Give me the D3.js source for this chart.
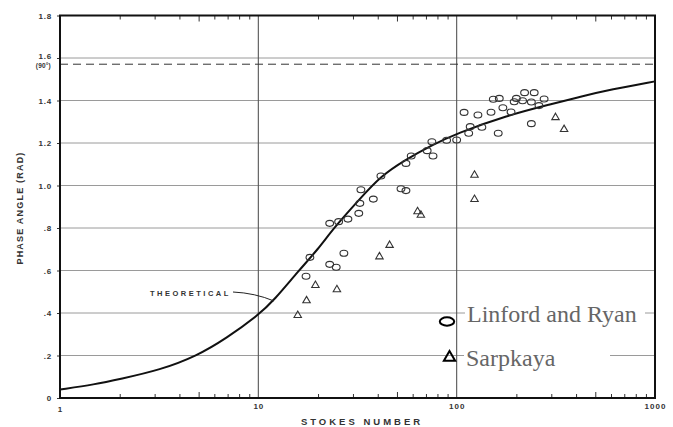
<!DOCTYPE html>
<html>
<head>
<meta charset="utf-8">
<script src="https://cdn.jsdelivr.net/npm/d3@7"></script>
<style>
  html, body { margin: 0; padding: 0; background: #fff; }
  svg { display: block; }
  .lbl { font-family: "Liberation Sans", Arial, sans-serif; fill: #333; font-weight: bold; }
</style>
</head>
<body>
<svg id="chart" width="673" height="427"></svg>
<script>
// Theoretical phase angle curve (Stokes number, phase angle in rad)
const theoryStokes = [1, 1.5, 2, 3.2, 4.9, 6.9, 10, 12, 16, 20, 24, 32, 41.5, 55, 75, 100, 180, 300, 420, 600, 1000];
const theoryPhase  = [0.04, 0.064, 0.089, 0.132, 0.198, 0.281, 0.39, 0.46, 0.6, 0.7, 0.8, 0.93, 1.045, 1.12, 1.19, 1.245, 1.33, 1.383, 1.418, 1.452, 1.49];

// Linford and Ryan measurements
const linfordStokes = [17.4, 18.2, 22.9, 22.9, 24.7, 25.4, 27.0, 28.3, 32.1, 32.5, 32.9, 38.0, 41.5, 52.4, 55.5, 55.5, 59, 71, 76, 75, 89, 100, 109, 115, 117, 128, 134, 149, 153, 162, 164, 171, 188, 195, 200, 215, 220, 238, 238, 246, 260, 276];
const linfordPhase  = [0.573, 0.662, 0.629, 0.822, 0.615, 0.83, 0.681, 0.842, 0.869, 0.916, 0.98, 0.936, 1.045, 0.985, 0.976, 1.104, 1.139, 1.164, 1.139, 1.206, 1.213, 1.214, 1.344, 1.246, 1.277, 1.332, 1.274, 1.345, 1.406, 1.246, 1.41, 1.366, 1.346, 1.394, 1.41, 1.399, 1.437, 1.393, 1.291, 1.437, 1.376, 1.407];

// Sarpkaya measurements
const sarpkayaStokes = [15.8, 17.5, 19.4, 24.9, 40.8, 45.9, 63.5, 66, 123, 123, 315, 348];
const sarpkayaPhase  = [0.389, 0.458, 0.53, 0.51, 0.665, 0.719, 0.877, 0.861, 1.049, 0.935, 1.32, 1.264];

// Axis ticks
const xMajor = [1, 10, 100, 1000];
const xMajorLabels = ["1", "10", "100", "1000"];
const yTicks = [0, 0.2, 0.4, 0.6, 0.8, 1.0, 1.2, 1.4, 1.6, 1.8];
const yTickLabels = ["0", ".2", ".4", ".6", ".8", "1.0", "1.2", "1.4", "1.6", "1.8"];
const halfPi = Math.PI / 2;

const svg = d3.select("#chart");
const x = d3.scaleLog().domain([1, 1000]).range([60, 655]);
const y = d3.scaleLinear().domain([0, 1.8]).range([398, 15.5]);

const minorTicks = [];
[1, 10, 100].forEach(d => { for (let k = 2; k <= 9; k++) minorTicks.push(d * k); });

// horizontal grid
svg.append("g").selectAll("line").data(yTicks.filter(v => v > 0 && v < 1.8)).join("line")
  .attr("x1", x(1)).attr("x2", x(1000))
  .attr("y1", d => y(d)).attr("y2", d => y(d))
  .attr("stroke", "#9a9a9a").attr("stroke-width", 1);

// vertical grid at decades
svg.append("g").selectAll("line").data([10, 100]).join("line")
  .attr("x1", d => x(d)).attr("x2", d => x(d))
  .attr("y1", y(0)).attr("y2", y(1.8))
  .attr("stroke", "#555").attr("stroke-width", 1.1);

// dashed 90 degree line
svg.append("line")
  .attr("x1", x(1)).attr("x2", x(1000))
  .attr("y1", y(halfPi)).attr("y2", y(halfPi))
  .attr("stroke", "#333").attr("stroke-width", 1)
  .attr("stroke-dasharray", "8,5");

// minor ticks on bottom and top
const bottomMinor = d3.axisBottom(x).tickValues(minorTicks).tickFormat("").tickSizeInner(0).tickSizeOuter(0);
svg.append("g").attr("transform", `translate(0,${y(0)})`).call(bottomMinor)
  .call(g => g.select(".domain").remove())
  .call(g => g.selectAll(".tick line")
    .attr("y2", d => (d === 5 || d === 50 || d === 500) ? -6 : -4)
    .attr("stroke", "#333").attr("stroke-width", 1));
svg.append("g").attr("transform", `translate(0,${y(1.8)})`).call(bottomMinor)
  .call(g => g.select(".domain").remove())
  .call(g => g.selectAll(".tick line")
    .attr("y2", d => (d === 5 || d === 50 || d === 500) ? 6 : 4)
    .attr("stroke", "#333").attr("stroke-width", 1));

// x tick labels
svg.append("g").attr("transform", `translate(0,${y(0)})`)
  .call(d3.axisBottom(x).tickValues(xMajor).tickFormat((d, i) => xMajorLabels[i]).tickSize(0).tickPadding(4))
  .call(g => g.select(".domain").remove())
  .call(g => g.selectAll("text").attr("class", "lbl").attr("font-size", 8).attr("letter-spacing", 1)
    .attr("dy", d => d === 1 ? "1.3em" : "0.85em"));

// y axis with labels
svg.append("g").attr("transform", `translate(${x(1)},0)`)
  .call(d3.axisLeft(y).tickValues(yTicks).tickFormat((d, i) => yTickLabels[i]).tickSize(3).tickPadding(5))
  .call(g => g.select(".domain").remove())
  .call(g => g.selectAll(".tick line").attr("stroke", "#333"))
  .call(g => g.selectAll("text").attr("class", "lbl").attr("font-size", 8).attr("letter-spacing", 0.8)
    .attr("dy", d => d === 1.6 ? "0.1em" : "0.32em"));

svg.append("text").attr("class", "lbl")
  .attr("x", 51).attr("y", y(halfPi) + 3.5)
  .attr("text-anchor", "end").attr("font-size", 6.5).attr("letter-spacing", 0.2)
  .text("(90°)");

// frame
svg.append("rect")
  .attr("x", x(1)).attr("y", y(1.8))
  .attr("width", x(1000) - x(1)).attr("height", y(0) - y(1.8))
  .attr("fill", "none").attr("stroke", "#111").attr("stroke-width", 2);

// theoretical curve
const theory = theoryStokes.map((s, i) => [s, theoryPhase[i]]);
svg.append("path").datum(theory)
  .attr("fill", "none").attr("stroke", "#111").attr("stroke-width", 2)
  .attr("d", d3.line().x(d => x(d[0])).y(d => y(d[1])).curve(d3.curveBasis));

// THEORETICAL label and leader
svg.append("text").attr("class", "lbl")
  .attr("x", 150).attr("y", 296).attr("font-size", 7.5).attr("letter-spacing", 2.5)
  .text("THEORETICAL");
svg.append("path")
  .attr("d", "M233,292 Q255,293 274,301")
  .attr("fill", "none").attr("stroke", "#222").attr("stroke-width", 1);

// circles
const linford = linfordStokes.map((s, i) => [s, linfordPhase[i]]);
svg.append("g").selectAll("ellipse").data(linford).join("ellipse")
  .attr("cx", d => x(d[0])).attr("cy", d => y(d[1]))
  .attr("rx", 3.9).attr("ry", 3)
  .attr("fill", "none").attr("stroke", "#333").attr("stroke-width", 1.1);

// triangles
const sarpkaya = sarpkayaStokes.map((s, i) => [s, sarpkayaPhase[i]]);
const tri = d3.symbol().type(d3.symbolTriangle).size(24);
svg.append("g").selectAll("path").data(sarpkaya).join("path")
  .attr("transform", d => `translate(${x(d[0])},${y(d[1])})`)
  .attr("d", tri)
  .attr("fill", "none").attr("stroke", "#333").attr("stroke-width", 1.1);

// legend
const legend = svg.append("g");
legend.append("rect").attr("x", 465).attr("y", 303).attr("width", 180).attr("height", 24).attr("fill", "#fff");
legend.append("rect").attr("x", 464).attr("y", 347).attr("width", 146).attr("height", 26).attr("fill", "#fff");
legend.append("ellipse").attr("cx", 447).attr("cy", 321.5).attr("rx", 7.2).attr("ry", 4.2)
  .attr("fill", "none").attr("stroke", "#000").attr("stroke-width", 2);
legend.append("path").attr("transform", "translate(449.5,357.5)")
  .attr("d", d3.symbol().type(d3.symbolTriangle).size(55))
  .attr("fill", "none").attr("stroke", "#000").attr("stroke-width", 2);
legend.append("text").attr("x", 467).attr("y", 322)
  .attr("font-family", "'Liberation Serif', 'Times New Roman', serif").attr("font-size", 24).attr("fill", "#666")
  .text("Linford and Ryan");
legend.append("text").attr("x", 466).attr("y", 366)
  .attr("font-family", "'Liberation Serif', 'Times New Roman', serif").attr("font-size", 24).attr("fill", "#666")
  .text("Sarpkaya");

// axis titles
svg.append("text").attr("class", "lbl")
  .attr("x", 362).attr("y", 425).attr("text-anchor", "middle")
  .attr("font-size", 9.5).attr("letter-spacing", 3)
  .text("STOKES NUMBER");
svg.append("text").attr("class", "lbl")
  .attr("transform", "translate(23,208) rotate(-90)").attr("text-anchor", "middle")
  .attr("font-size", 9).attr("letter-spacing", 1.2)
  .text("PHASE ANGLE (RAD)");
</script>
</body>
</html>
